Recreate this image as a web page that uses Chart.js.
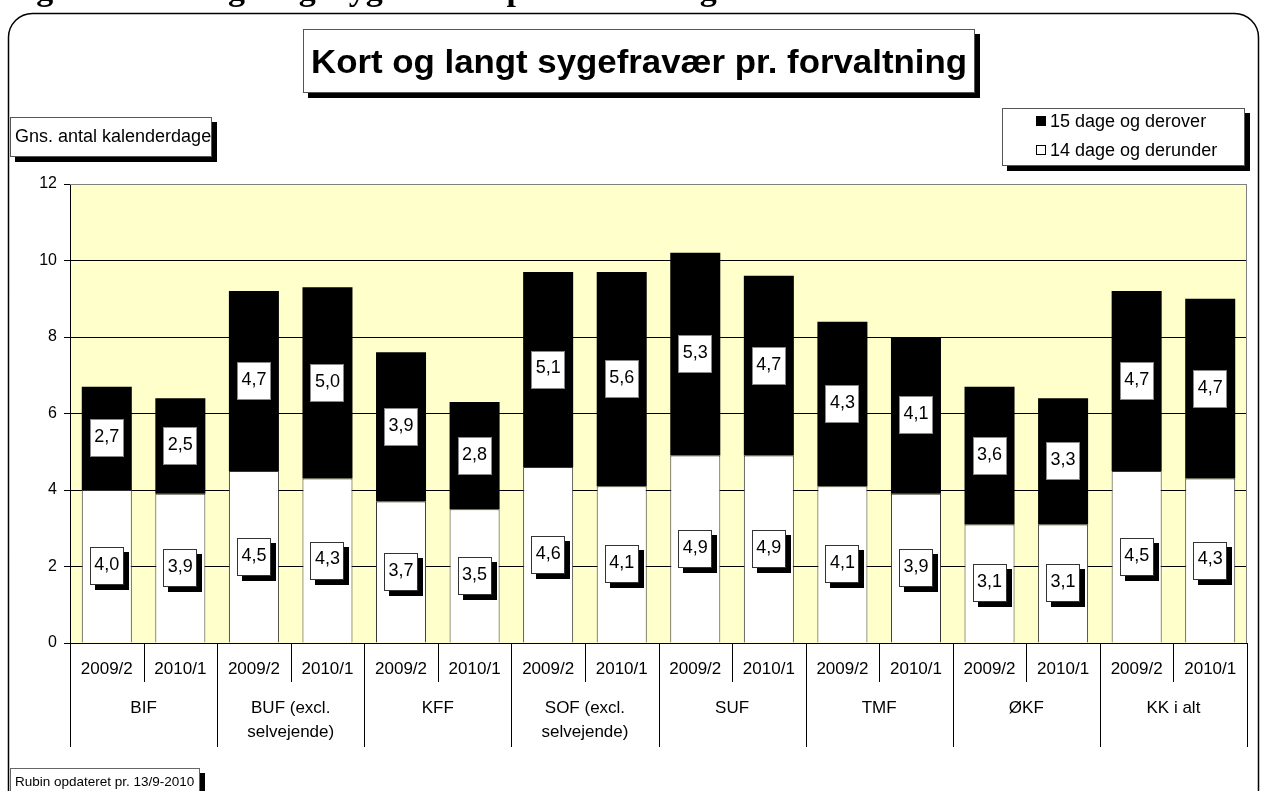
<!DOCTYPE html>
<html>
<head>
<meta charset="utf-8">
<script src="https://cdn.jsdelivr.net/npm/chart.js@4/dist/chart.umd.min.js"></script>
<style>
  html, body { margin: 0; padding: 0; background: #fff; overflow: hidden; }
  canvas { display: block; }
</style>
</head>
<body>
<canvas id="chart" width="1261" height="791"></canvas>
<script>
const groups = ['BIF', 'BUF (excl.\nselvejende)', 'KFF', 'SOF (excl.\nselvejende)', 'SUF', 'TMF', 'ØKF', 'KK i alt'];
const periods = ['2009/2', '2010/1'];
const shortAbsence = [4.0, 3.9, 4.5, 4.3, 3.7, 3.5, 4.6, 4.1, 4.9, 4.9, 4.1, 3.9, 3.1, 3.1, 4.5, 4.3];
const longAbsence = [2.7, 2.5, 4.7, 5.0, 3.9, 2.8, 5.1, 5.6, 5.3, 4.7, 4.3, 4.1, 3.6, 3.3, 4.7, 4.7];
const yTicks = [0, 2, 4, 6, 8, 10, 12];

const FONT = "'Liberation Sans', Arial, sans-serif";
const labels = groups.flatMap(() => periods);

function box(ctx, x, y, w, h, shadow, border) {
  if (shadow) {
    ctx.fillStyle = '#000';
    ctx.fillRect(x + shadow, y + shadow, w, h);
  }
  ctx.fillStyle = '#fff';
  ctx.fillRect(x, y, w, h);
  if (border) {
    ctx.strokeStyle = border;
    ctx.lineWidth = 1;
    ctx.strokeRect(x + 0.5, y + 0.5, w - 1, h - 1);
  }
}

const decor = {
  id: 'decor',
  beforeDraw(chart) {
    const { ctx, chartArea: a } = chart;
    ctx.save();
    ctx.fillStyle = '#fff';
    ctx.fillRect(0, 0, chart.width, chart.height);
    // heading of the page, cut off at the top: only descenders show
    ctx.fillStyle = '#000';
    ctx.font = "bold 34px 'Liberation Serif', serif";
    ctx.textBaseline = 'alphabetic';
    ctx.textAlign = 'left';
    ctx.fillText('Figur 4: Kort og langt sygefravær pr. forvaltning', 6, 0);
    // rounded frame
    ctx.strokeStyle = '#000';
    ctx.lineWidth = 1.5;
    ctx.beginPath();
    ctx.roundRect(8.5, 13.5, 1250, 800, 24);
    ctx.stroke();
    // plot background
    ctx.fillStyle = '#ffffcc';
    ctx.fillRect(a.left, a.top, a.right - a.left, a.bottom - a.top);
    ctx.restore();
  },
  afterDatasetsDraw(chart) {
    const { ctx } = chart;
    ctx.save();
    ctx.font = '18px ' + FONT;
    ctx.textAlign = 'center';
    ctx.textBaseline = 'middle';
    chart.data.datasets.forEach((ds, di) => {
      chart.getDatasetMeta(di).data.forEach((el, i) => {
        const yc = (el.y + el.base) / 2;
        const w = 34, h = 38;
        const x0 = Math.round(el.x - w / 2), y0 = Math.round(yc - h / 2);
        if (di === 0) box(ctx, x0, y0, w, h, 5, '#333');
        else box(ctx, x0, y0, w, h, 0, '#888');
        ctx.fillStyle = '#000';
        ctx.fillText(ds.data[i].toFixed(1).replace('.', ','), el.x, yc - 1);
      });
    });
    ctx.restore();
  },
  afterDraw(chart) {
    const { ctx, chartArea: a } = chart;
    const xs = chart.scales.x;
    ctx.save();
    // plot border top / right
    ctx.strokeStyle = '#808080';
    ctx.lineWidth = 1;
    ctx.beginPath();
    ctx.moveTo(a.left, a.top + 0.5);
    ctx.lineTo(a.right - 0.5, a.top + 0.5);
    ctx.lineTo(a.right - 0.5, a.bottom);
    ctx.stroke();

    // category separators and group labels
    const cw = (a.right - a.left) / labels.length;
    ctx.strokeStyle = '#000';
    for (let k = 0; k <= labels.length; k++) {
      const x = Math.round(a.left + k * cw) + 0.5;
      ctx.beginPath();
      ctx.moveTo(x, a.bottom);
      ctx.lineTo(x, k % 2 === 0 ? 747 : 682);
      ctx.stroke();
    }
    ctx.fillStyle = '#000';
    ctx.font = '17px ' + FONT;
    ctx.textAlign = 'center';
    ctx.textBaseline = 'middle';
    groups.forEach((g, gi) => {
      const x = (xs.getPixelForValue(gi * 2) + xs.getPixelForValue(gi * 2 + 1)) / 2;
      g.split('\n').forEach((line, li) => ctx.fillText(line, x, 708 + li * 24));
    });

    // title, stretched a little to the reference width
    box(ctx, 303, 29, 672, 64, 5, '#555');
    const title = 'Kort og langt sygefravær pr. forvaltning';
    ctx.fillStyle = '#000';
    ctx.font = 'bold 33px ' + FONT;
    ctx.textAlign = 'center';
    ctx.textBaseline = 'alphabetic';
    const tw = ctx.measureText(title).width;
    ctx.save();
    ctx.translate(639, 73);
    ctx.scale(656 / tw, 1);
    ctx.fillText(title, 0, 0);
    ctx.restore();

    // y axis title
    box(ctx, 10, 117, 202, 40, 5, '#555');
    ctx.fillStyle = '#000';
    ctx.font = '18px ' + FONT;
    ctx.textAlign = 'left';
    ctx.textBaseline = 'middle';
    ctx.fillText('Gns. antal kalenderdage', 15, 137);

    // legend
    box(ctx, 1002, 108, 243, 58, 5, '#555');
    const order = [1, 0];
    order.forEach((di, r) => {
      const ds = chart.data.datasets[di];
      const yc = 121 + r * 29;
      ctx.fillStyle = ds.backgroundColor;
      ctx.fillRect(1036, yc - 5, 10, 10);
      ctx.strokeStyle = '#000';
      ctx.strokeRect(1036.5, yc - 4.5, 9, 9);
      ctx.fillStyle = '#000';
      ctx.fillText(ds.label, 1050, yc + 1);
    });

    // source note
    box(ctx, 10, 768, 190, 30, 5, '#666');
    ctx.fillStyle = '#000';
    ctx.font = '13.5px ' + FONT;
    ctx.fillText('Rubin opdateret pr. 13/9-2010', 15, 782);
    ctx.restore();
  }
};

new Chart(document.getElementById('chart'), {
  type: 'bar',
  data: {
    labels: labels,
    datasets: [
      {
        label: '14 dage og derunder',
        data: shortAbsence,
        backgroundColor: '#ffffff',
        borderColor: '#333333',
        borderWidth: 1
      },
      {
        label: '15 dage og derover',
        data: longAbsence,
        backgroundColor: '#000000',
        borderWidth: 0
      }
    ]
  },
  options: {
    responsive: false,
    animation: false,
    devicePixelRatio: 1,
    layout: { padding: { top: 184, right: 14, bottom: 108, left: 0 } },
    datasets: { bar: { barPercentage: 0.68, categoryPercentage: 1 } },
    plugins: { legend: { display: false }, title: { display: false }, tooltip: { enabled: false } },
    scales: {
      x: {
        stacked: true,
        grid: { display: false, drawTicks: false },
        border: { display: true, color: '#000' },
        ticks: { color: '#000', font: { family: FONT, size: 17 }, padding: 16, maxRotation: 0, autoSkip: false },
        afterFit(s) { s.height = 40; }
      },
      y: {
        stacked: true,
        min: 0,
        max: 12,
        afterBuildTicks(s) { s.ticks = yTicks.map(v => ({ value: v })); },
        grid: {
          color: c => (c.tick && c.tick.value === 12 ? '#808080' : '#000'),
          tickColor: '#000',
          tickLength: 6,
          lineWidth: 1
        },
        border: { display: true, color: '#000' },
        ticks: { color: '#000', font: { family: FONT, size: 16 }, padding: 7 },
        afterFit(s) { s.width = 70; }
      }
    }
  },
  plugins: [decor]
});
</script>
</body>
</html>
